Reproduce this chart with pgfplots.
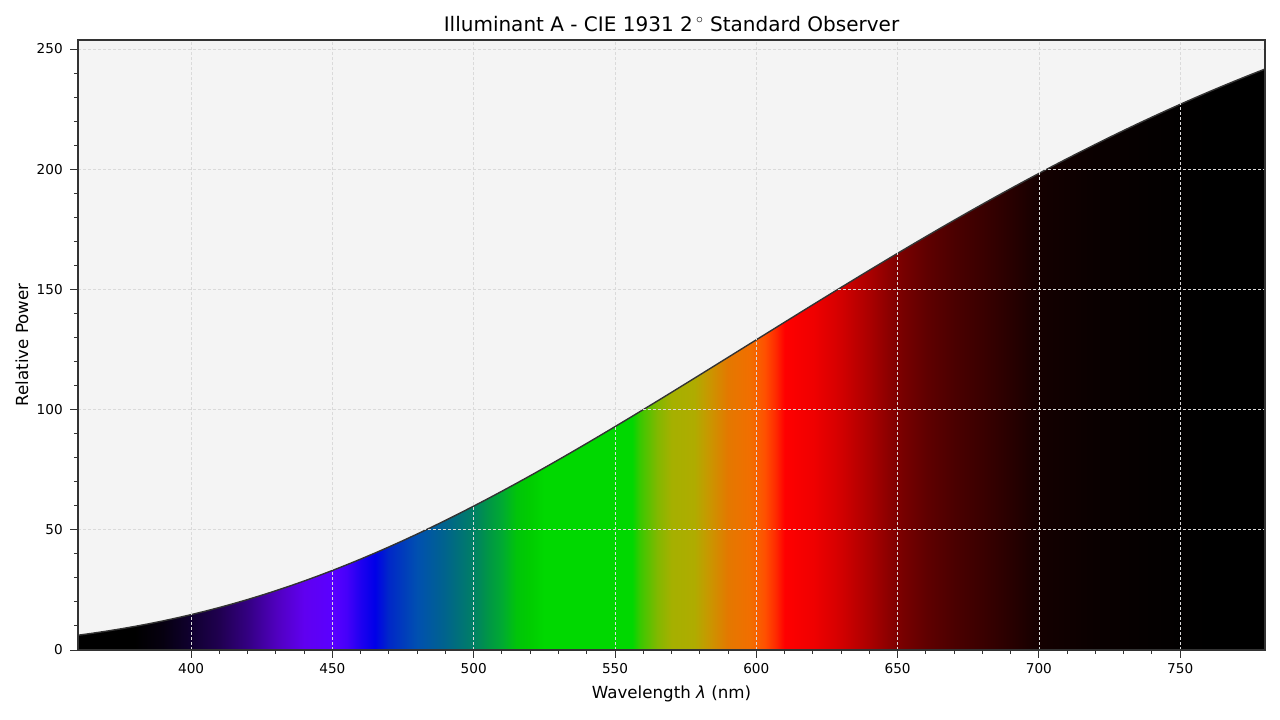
\documentclass[border=0pt]{standalone}
\usepackage{fontspec}
\setmainfont{DejaVu Sans}
\usepackage{pgfplots}
\pgfplotsset{compat=1.18}
\usepackage{pgfplotstable}

\definecolor{bgcol}{RGB}{244,244,244}
\definecolor{framecol}{RGB}{51,51,51}
\definecolor{gridcol}{RGB}{218,218,218}

% visible spectrum, 360 nm at 25bp ... 780 nm at 75bp
\pgfdeclarehorizontalshading{spectrum}{100bp}{%
  rgb(0bp)=(0,0,0);
  rgb(25bp)=(0,0,0);
  rgb(27.381bp)=(0,0,0);
  rgb(27.976bp)=(0.012,0,0.031);
  rgb(28.571bp)=(0.024,0,0.063);
  rgb(29.762bp)=(0.063,0,0.188);
  rgb(30.952bp)=(0.125,0,0.314);
  rgb(32.143bp)=(0.204,0,0.510);
  rgb(33.333bp)=(0.314,0,0.745);
  rgb(34.524bp)=(0.376,0,0.941);
  rgb(35.714bp)=(0.353,0,1);
  rgb(36.310bp)=(0.275,0,0.980);
  rgb(36.905bp)=(0.118,0,0.941);
  rgb(37.500bp)=(0,0,0.910);
  rgb(38.095bp)=(0,0.157,0.784);
  rgb(39.286bp)=(0,0.314,0.690);
  rgb(40.476bp)=(0,0.392,0.549);
  rgb(41.667bp)=(0,0.502,0.392);
  rgb(42.262bp)=(0,0.588,0.275);
  rgb(42.857bp)=(0,0.667,0.196);
  rgb(43.452bp)=(0,0.769,0.039);
  rgb(44.048bp)=(0,0.804,0);
  rgb(44.643bp)=(0,0.847,0);
  rgb(48.333bp)=(0,0.847,0);
  rgb(48.690bp)=(0.235,0.784,0);
  rgb(49.405bp)=(0.510,0.722,0);
  rgb(50.000bp)=(0.647,0.690,0);
  rgb(50.952bp)=(0.686,0.675,0);
  rgb(51.548bp)=(0.784,0.596,0);
  rgb(52.381bp)=(0.894,0.471,0);
  rgb(53.333bp)=(0.949,0.431,0);
  rgb(53.929bp)=(1,0.314,0);
  rgb(54.405bp)=(1,0.157,0);
  rgb(54.762bp)=(1,0,0);
  rgb(55.952bp)=(0.941,0,0);
  rgb(57.143bp)=(0.824,0,0);
  rgb(58.333bp)=(0.667,0,0);
  rgb(59.524bp)=(0.490,0,0);
  rgb(60.714bp)=(0.376,0,0);
  rgb(61.905bp)=(0.294,0,0);
  rgb(63.095bp)=(0.227,0,0);
  rgb(64.286bp)=(0.157,0,0);
  rgb(65.476bp)=(0.078,0,0);
  rgb(67.857bp)=(0.039,0,0);
  rgb(70.238bp)=(0.016,0,0);
  rgb(72.619bp)=(0,0,0);
  rgb(75bp)=(0,0,0);
  rgb(100bp)=(0,0,0)}

\pgfplotstableread{
wl  power
360 6.14462
365 6.94720
370 7.82135
375 8.76980
380 9.79510
385 10.8996
390 12.0853
395 13.3543
400 14.7080
405 16.1480
410 17.6753
415 19.2907
420 20.9950
425 22.7883
430 24.6709
435 26.6425
440 28.7027
445 30.8508
450 33.0859
455 35.4068
460 37.8121
465 40.3002
470 42.8693
475 45.5174
480 48.2423
485 51.0418
490 53.9132
495 56.8539
500 59.8611
505 62.9320
510 66.0635
515 69.2525
520 72.4959
525 75.7903
530 79.1326
535 82.5193
540 85.9470
545 89.4124
550 92.9120
555 96.4423
560 100.000
565 103.582
570 107.184
575 110.803
580 114.436
585 118.080
590 121.731
595 125.386
600 129.043
605 132.697
610 136.346
615 139.988
620 143.618
625 147.235
630 150.836
635 154.418
640 157.979
645 161.516
650 165.028
655 168.510
660 171.963
665 175.383
670 178.769
675 182.118
680 185.429
685 188.701
690 191.931
695 195.118
700 198.261
705 201.359
710 204.409
715 207.411
720 210.365
725 213.268
730 216.120
735 218.920
740 221.667
745 224.361
750 227.000
755 229.585
760 232.115
765 234.589
770 237.008
775 239.370
780 241.675
}\illumA

\begin{document}
\begin{tikzpicture}
\useasboundingbox (-56.2pt,-50.4pt) rectangle (865.4pt,468pt);
\begin{axis}[
  at={(0,0)}, anchor=south west,
  scale only axis,
  width=854.6pt, height=439.2pt,
  xmin=360, xmax=780,
  ymin=0, ymax=253.76,
  xtick={400,450,...,750},
  ytick={0,50,...,250},
  minor tick num=4,
  tick pos=left,
  tick align=outside,
  major tick length=5.5pt,
  minor tick length=3pt,
  tick style={framecol, line width=0.7pt},
  axis line style={framecol, line width=0.8pt},
  axis background/.style={fill=bgcol},
  grid=major,
  major grid style={gridcol, dashed, line width=0.5pt, dash pattern=on 2.2pt off 1.4pt},
  axis on top,
  ticklabel style={font=\fontsize{9.8}{11}\selectfont, text=black},
  /pgf/number format/assume math mode=true,
  xticklabel style={yshift=-0.5pt},
  yticklabel style={xshift=-2pt},
  title={Illuminant A - CIE 1931 2\,$^\circ$\ Standard Observer},
  title style={font=\fontsize{14.4}{16}\selectfont, at={(axis description cs:0.5,1.013)}, anchor=center},
  xlabel={Wavelength {\itshape λ} (nm)},
  ylabel={Relative Power},
  xlabel style={font=\fontsize{12}{14}\selectfont, at={(axis description cs:0.5,-0.072)}, anchor=center},
  ylabel style={font=\fontsize{12}{14}\selectfont, at={(axis description cs:-0.0472,0.5)}, anchor=center},
]
\addplot[draw=none, shading=spectrum] table[x=wl, y=power] {\illumA} \closedcycle;
\addplot[framecol, line width=1pt, no marks] table[x=wl, y=power] {\illumA};
\end{axis}
\end{tikzpicture}
\end{document}
